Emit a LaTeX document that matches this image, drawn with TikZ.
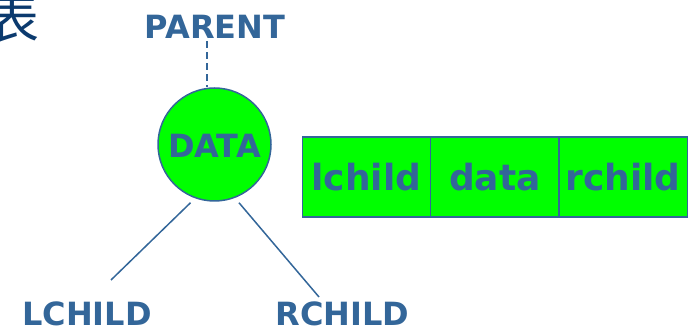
\documentclass[tikz,border=0pt]{standalone}
\usepackage{fontspec}
\setmainfont{DejaVu Sans}
\newfontfamily\cjk{Noto Sans CJK SC}
\usetikzlibrary{calc}
\begin{document}
\begin{tikzpicture}[x=1pt,y=-1pt,
  ink/.style={draw=labelblue, line width=1.5pt},
  caplabel/.style={inner sep=0pt, text=labelblue, font=\fontsize{32}{32}\selectfont\bfseries,
                   text height=23.3pt, text depth=0pt, anchor=center},
  cell/.style={draw=labelblue, line width=1.5pt, fill=nodegreen, inner sep=0pt, outer sep=0pt,
               minimum width=128.3pt, minimum height=80pt, text=labelblue,
               font=\fontsize{36}{36}\selectfont\bfseries, text height=27.4pt, text depth=0pt}]
\definecolor{labelblue}{HTML}{336699}
\definecolor{nodegreen}{HTML}{00FF00}
\definecolor{titleblue}{HTML}{0B3A6E}
\useasboundingbox (0,0) rectangle (697,331);

% heading glyph running off the left edge
\node[inner sep=0pt, text=titleblue, font=\cjk\fontsize{54}{54}\selectfont] (title) at (12,18) {表};

% the tree node and its neighbours
\node[caplabel] (parent) at (215,26.5) {PARENT};
\node[circle, draw=labelblue, line width=1.5pt, fill=nodegreen, minimum size=113pt, inner sep=0pt] (data) at (214.5,144.5) {};
\node[caplabel] (datatext) at (214.5,146) {DATA};
\node[caplabel] (lchild) at (87,314) {LCHILD};
\node[caplabel] (rchild) at (342.5,314) {RCHILD};

% branch ends, just clear of the circle
\coordinate (lstart) at ($(data.south)+(-24,1)$);
\coordinate (rstart) at ($(data.south)+(24.5,1)$);
\coordinate (lend) at (111,280);
\coordinate (rend) at (319,297);
\draw[ink, dash pattern=on 6.5pt off 4.5pt] (parent.south -| 207,0) ++(0,3) -- (data.north -| 207,0);
\draw[ink] (lstart) -- (lend);
\draw[ink] (rstart) -- (rend);

% node layout: three fields
\node[cell] (lc) at (366.5,177) {lchild};
\node[cell, anchor=west] (dc) at (lc.east) {data};
\node[cell, anchor=west] (rc) at (dc.east) {rchild};
\end{tikzpicture}
\end{document}
